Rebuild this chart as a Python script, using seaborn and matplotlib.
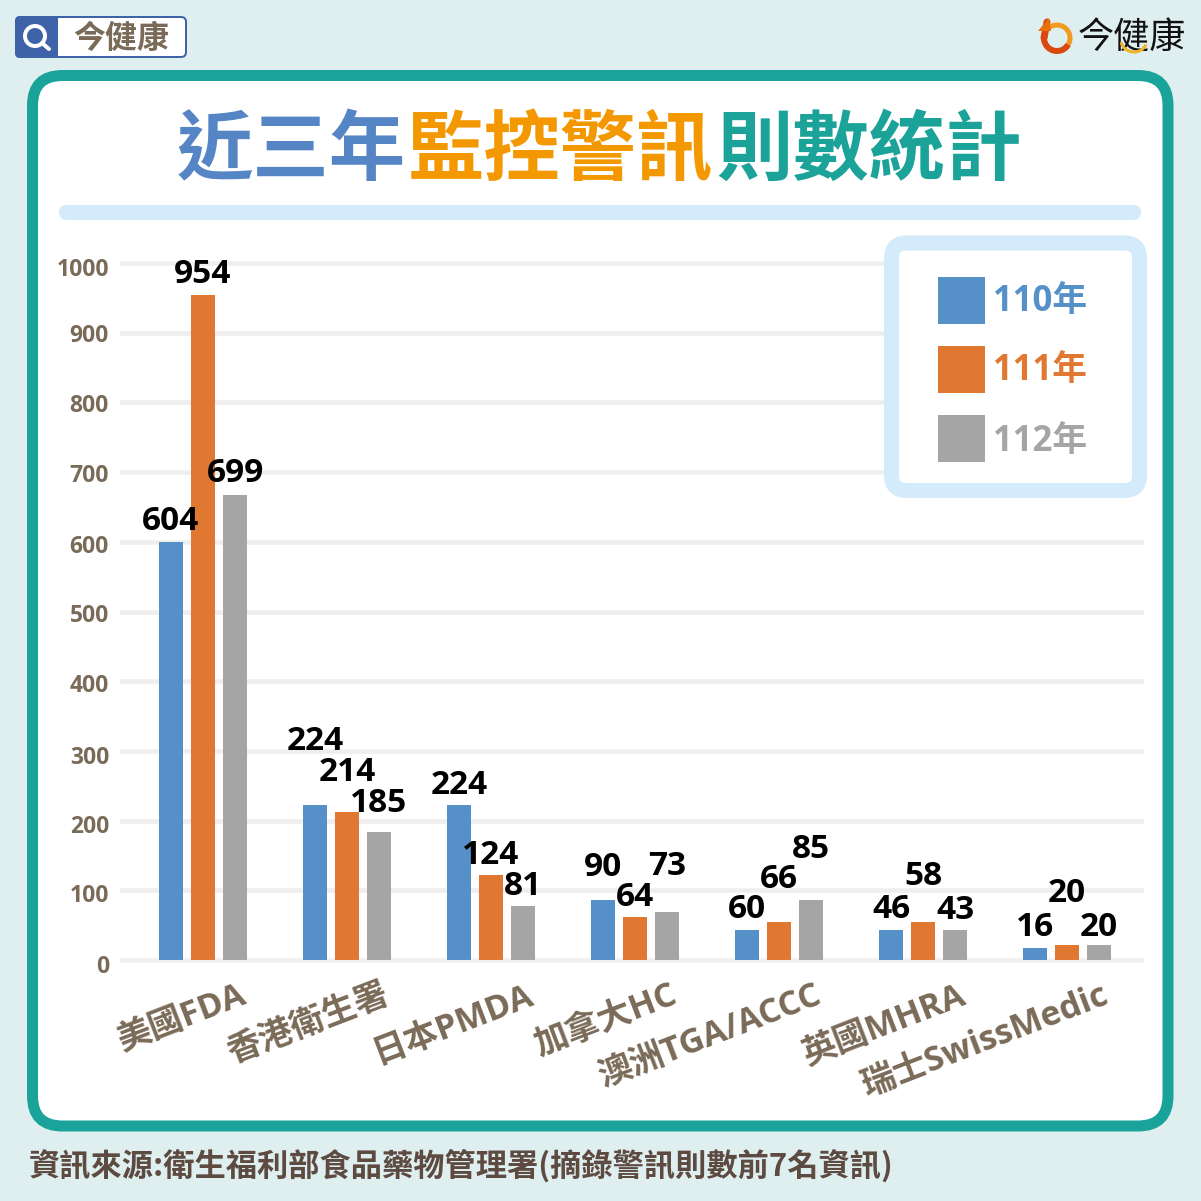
# 近三年監控警訊則數統計 - grouped bars with the infographic frame around them

import pandas as pd
import matplotlib
matplotlib.use("Agg")
import matplotlib.pyplot as plt
from matplotlib.patches import FancyBboxPatch, Rectangle, Circle, Arc, Polygon
from matplotlib.transforms import ScaledTranslation
import seaborn as sns

agencies = ["美國FDA", "香港衛生署", "日本PMDA", "加拿大HC", "澳洲TGA/ACCC", "英國MHRA", "瑞士SwissMedic"]
years = ["110年", "111年", "112年"]

# bar heights as drawn in the picture (they do not quite follow the printed numbers)
bars_110 = [600, 222, 222, 86, 43, 43, 17]
bars_111 = [954, 212, 122, 62, 54, 54, 21]
bars_112 = [667, 184, 78, 69, 86, 43, 21]

# numbers printed above the bars
labels_110 = [604, 224, 224, 90, 60, 46, 16]
labels_111 = [954, 214, 124, 64, 66, 58, 20]
labels_112 = [699, 185, 81, 73, 85, 43, 20]

y_ticks = [0, 100, 200, 300, 400, 500, 600, 700, 800, 900, 1000]

title_parts = ["近三年", "監控警訊", "則數統計"]
source_text = "資訊來源:衛生福利部食品藥物管理署(摘錄警訊則數前7名資訊)"
brand = "今健康"

PX = 0.72  # one pixel in points at dpi 100
FONT = ["Open Sans", "Noto Sans CJK TC", "DejaVu Sans"]
CJK = ["Noto Sans CJK TC", "DejaVu Sans"]
BROWN = "#7a6a58"
year_colors = ["#5591c8", "#e07832", "#a5a5a5"]
title_colors = ["#5585c5", "#f39800", "#1ba39a"]

# label lift above each bar top, pixels
lift_110 = [20.5, 63.5, 19.5, 32.5, 20.5, 20.5, 20.5]
lift_111 = [20.5, 39.5, 19.5, 19.5, 42.5, 45.5, 51.5]
lift_112 = [21.5, 28.5, 19.5, 45.5, 50.5, 19.5, 17.5]

# the y labels drift a little against their gridlines, pixels down
tick_drift = [4, 3, 3, 4, 2, 2, 2, 1, 1, 0, 4]

sns.set_theme(style="white")
plt.rcParams["font.family"] = FONT

fig = plt.figure(figsize=(12.01, 12.01), dpi=100, facecolor="#dfeff0")

# pixel canvas under the chart
bg = fig.add_axes([0, 0, 1, 1], zorder=0)
bg.set_xlim(0, 1201)
bg.set_ylim(1201, 0)
bg.axis("off")

# pixel canvas over the chart, for the legend box
fg = fig.add_axes([0, 0, 1, 1], zorder=2)
fg.set_xlim(0, 1201)
fg.set_ylim(1201, 0)
fg.axis("off")


def round_box(ax, x0, y0, x1, y1, r, fc, ec="none", lw=0, z=1):
    ax.add_patch(FancyBboxPatch((x0, y0), x1 - x0, y1 - y0, boxstyle=f"round,pad=0,rounding_size={r}",
                                fc=fc, ec=ec, lw=lw * PX, zorder=z))


# frame and divider
round_box(bg, 32.5, 75.5, 1168, 1126, 30, "white", "#1aa39a", 11)
round_box(bg, 59, 205, 1141, 220, 7.5, "#d3ebfa")

# title
for part, color, left in zip(title_parts, title_colors, [177, 408, 716]):
    bg.text(left, 151, part, color=color, fontsize=55, fontweight="bold", family=CJK, ha="left", va="center")

# search badge, top left
round_box(bg, 16, 17, 186, 57, 5, "white", "#3f63a8", 2)
round_box(bg, 15, 16, 58, 58, 5, "#3f63a8", z=2)
bg.add_patch(Rectangle((48, 17), 10, 40, fc="#3f63a8", ec="none", zorder=2))
bg.add_patch(Circle((35, 36), 10, fc="none", ec="white", lw=4 * PX, zorder=3))
bg.plot([42, 49], [43, 49], color="white", lw=4 * PX, solid_capstyle="round", zorder=3)
bg.text(121, 39, brand, color=BROWN, fontsize=23, fontweight="bold", family=CJK, ha="center", va="center", zorder=3)

# logo, top right
bg.add_patch(Arc((1057, 38), 26, 26, theta1=30, theta2=200, color="#d9480f", lw=6 * PX, zorder=3))
bg.add_patch(Arc((1057, 38), 26, 26, theta1=200, theta2=390, color="#f39a1e", lw=5 * PX, zorder=2))
bg.plot([1047, 1044], [22, 38], color="#d9480f", lw=7 * PX, zorder=3)
bg.add_patch(Polygon([[1038, 31], [1049, 18], [1051, 31]], fc="#e8700f", ec="none", zorder=3))
bg.text(1132, 38, brand, color="#111111", fontsize=26, family=CJK, ha="center", va="center", zorder=2)
bg.add_patch(Arc((1134, 40), 26, 24, theta1=20, theta2=170, color="#f0b428", lw=3 * PX, zorder=3))

# source line
bg.text(29, 1166, source_text, color="#5d4a40", fontsize=22.5, fontweight="bold", family=CJK, ha="left", va="center")

# the chart itself
df = pd.DataFrame({
    "agency": agencies * 3,
    "year": [y for y in years for _ in agencies],
    "count": bars_110 + bars_111 + bars_112,
})

y_pad = 5
px_per_unit = 0.697
ax_left, ax_right = 120, 1144
ax_bottom = 960 + y_pad * px_per_unit
ax_top = 263 - y_pad * px_per_unit
ax = fig.add_axes([ax_left / 1201, 1 - ax_bottom / 1201, (ax_right - ax_left) / 1201, (ax_bottom - ax_top) / 1201], zorder=1)
ax.patch.set_alpha(0)

sns.barplot(data=df, x="agency", y="count", hue="year", palette=year_colors, order=agencies, hue_order=years,
            width=0.667, gap=0.28, saturation=1, linewidth=0, legend=False, ax=ax)

ax.set_xlim(-0.5 - 11 / 144, 6.5 + 5 / 144)
ax.set_ylim(-y_pad, 1000 + y_pad)
ax.set_xlabel("")
ax.set_ylabel("")
ax.set_yticks(y_ticks)
ax.grid(axis="y", color="#eeeeee", lw=4.5 * PX)
ax.set_axisbelow(True)
sns.despine(ax=ax, left=True, bottom=True)

ax.tick_params(axis="y", length=0, pad=11 * PX, labelsize=16.5, labelcolor=BROWN)
for lab, drift in zip(ax.get_yticklabels(), tick_drift):
    lab.set_fontweight("bold")
    lab.set_transform(lab.get_transform() + ScaledTranslation(0, -drift / 100, fig.dpi_scale_trans))

ax.tick_params(axis="x", length=0, pad=15 * PX, labelsize=24.5, labelcolor=BROWN)
for lab in ax.get_xticklabels():
    lab.set_rotation(21)
    lab.set_ha("right")
    lab.set_va("top")
    lab.set_rotation_mode("anchor")
    lab.set_fontweight("bold")
    lab.set_transform(lab.get_transform() + ScaledTranslation(35 / 100, 0, fig.dpi_scale_trans))

# printed numbers
for container, nums, lifts in zip(ax.containers, [labels_110, labels_111, labels_112], [lift_110, lift_111, lift_112]):
    for bar, num, lift in zip(container, nums, lifts):
        ax.annotate(str(num), (bar.get_x() + bar.get_width() / 2, bar.get_height()), xytext=(0, lift * PX),
                    textcoords="offset points", ha="center", va="center", fontsize=24, fontweight="bold",
                    color="black", annotation_clip=False, zorder=5)

# legend box, sits over the gridlines
round_box(fg, 891.5, 243, 1139.5, 490.5, 15, "white", "#d3ebfa", 15)
for year, color, top, mid in zip(years, year_colors, [277, 346, 415], [302, 371, 442]):
    fg.add_patch(Rectangle((938, top), 47, 47, fc=color, ec="none", zorder=3))
    fg.text(993, mid, year, color=color, fontsize=25, fontweight="bold", ha="left", va="center", zorder=3)

plt.savefig("out.png", dpi=100, facecolor=fig.get_facecolor())
